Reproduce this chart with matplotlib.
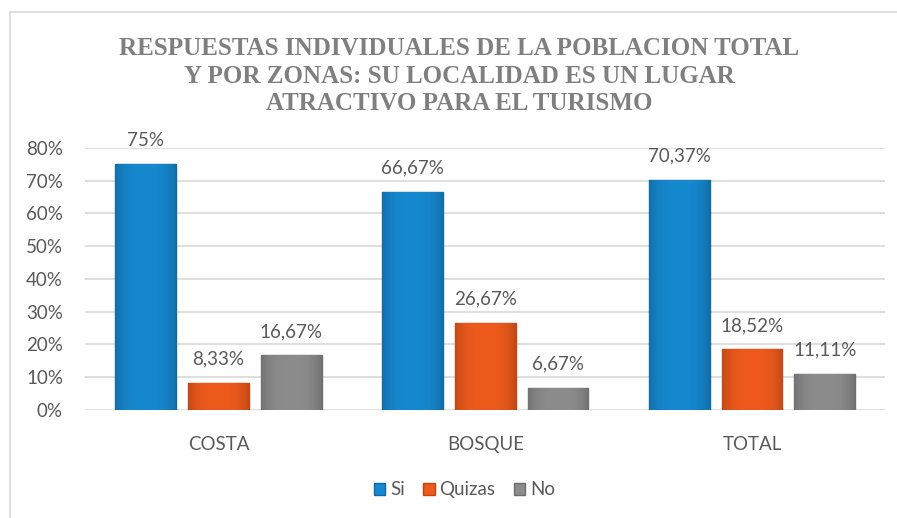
import matplotlib.pyplot as plt
import numpy as np
from matplotlib.patches import Rectangle
from matplotlib.colors import to_rgb

# data
categories = ['COSTA', 'BOSQUE', 'TOTAL']
series = ['Si', 'Quizas', 'No']
si = [75.0, 66.67, 70.37]
quizas = [8.33, 26.67, 18.52]
no = [16.67, 6.67, 11.11]
labels_si = ['75%', '66,67%', '70,37%']
labels_quizas = ['8,33%', '26,67%', '18,52%']
labels_no = ['16,67%', '6,67%', '11,11%']

colors = ['#1688cf', '#ee5a1c', '#8c8c8c']
edges = ['#0f6aa6', '#c4440f', '#6e6e6e']
text_gray = '#595959'

plt.rcParams['font.family'] = ['Lato', 'DejaVu Sans']

fig = plt.figure(figsize=(8.97, 5.18), dpi=100)
fig.patches.append(Rectangle((0.011, -0.01), 1.0, 0.987, transform=fig.transFigure,
                             fill=False, edgecolor='#d9d9d9', linewidth=1.2))

ax = fig.add_axes([0.095, 0.2085, 0.892, 0.5058])

x = np.arange(len(categories))
w = 0.228
gap = 0.045
offsets = [-(w + gap), 0, w + gap]
all_vals = [si, quizas, no]
all_labels = [labels_si, labels_quizas, labels_no]

# horizontal shading: darker at the sides, bright in the middle
t = np.linspace(-1, 1, 60)
shade = 1 - 0.18 * np.abs(t) ** 3

for i in range(3):
    bars = ax.bar(x + offsets[i], all_vals[i], width=w, color=colors[i],
                  edgecolor=edges[i], linewidth=1, label=series[i], zorder=3)
    base = np.array(to_rgb(colors[i]))
    img = np.clip(base[None, None, :] * shade[None, :, None], 0, 1)
    for b, lab in zip(bars, all_labels[i]):
        x0, h = b.get_x(), b.get_height()
        im = ax.imshow(img, extent=(x0, x0 + b.get_width(), 0, h), aspect='auto',
                       zorder=3.5, interpolation='bicubic')
        im.set_clip_path(b)
        ax.annotate(lab, (x0 + b.get_width() / 2, h),
                    xytext=(0, 11), textcoords='offset points', ha='center', va='bottom',
                    fontsize=13.5, color=text_gray)

ax.set_xlim(-0.5, 2.5)
ax.set_ylim(0, 80)
ax.set_yticks(range(0, 81, 10))
ax.set_yticklabels([f'{v}%' for v in range(0, 81, 10)])
ax.set_xticks(x)
ax.set_xticklabels(categories)
ax.tick_params(axis='y', length=0, pad=16, labelsize=13.5, labelcolor=text_gray)
ax.tick_params(axis='x', length=0, pad=19, labelsize=13.5, labelcolor=text_gray)
ax.grid(axis='y', color='#d9d9d9', linewidth=1.2, zorder=0)
for s in ax.spines.values():
    s.set_visible(False)

fig.text(0.512, 0.853, 'RESPUESTAS INDIVIDUALES DE LA POBLACION TOTAL\nY POR ZONAS: SU LOCALIDAD ES UN LUGAR\nATRACTIVO PARA EL TURISMO',
         ha='center', va='center', fontsize=18, fontweight='bold', color='#7f7f7f',
         family='Liberation Serif', linespacing=1.25)

ax.legend(loc='center', bbox_to_anchor=(0.474, -0.305), ncol=3, frameon=False,
          fontsize=13.5, labelcolor=text_gray, handlelength=0.6, handleheight=0.6,
          handletextpad=0.25, columnspacing=1.0)

fig.savefig('out.png', dpi=100)
